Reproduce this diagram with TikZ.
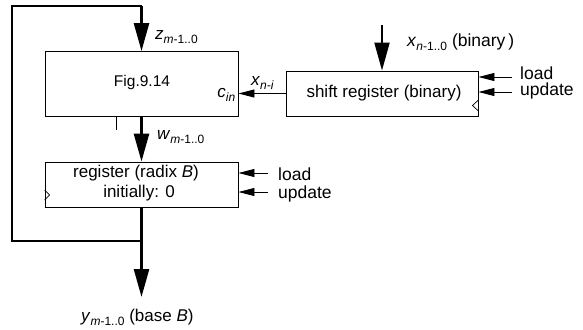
\documentclass[tikz,border=0pt]{standalone}
\usepackage{fontspec}
\setmainfont{Liberation Sans}
\usetikzlibrary{arrows.meta,calc}
\newcommand\sbs[1]{\raisebox{-0.45ex}{\fontsize{12bp}{13bp}\selectfont #1}}
\tikzset{
  blk/.style={draw, line width=0.9bp, rectangle, inner sep=0pt},
  bus/.style={line width=2.6bp},
  busarrow/.style={bus, -{Triangle[length=28bp,width=15bp]}},
  sig/.style={line width=0.9bp, -{Triangle[length=16bp,width=8bp]}},
  lbl/.style={inner sep=0pt, font=\fontsize{17bp}{19bp}\selectfont},
  ctl/.style={inner sep=0pt, font=\fontsize{17.5bp}{19bp}\selectfont},
  clk/.style={line width=0.7bp},
}
\begin{document}
\begin{tikzpicture}[x=1bp,y=-1bp]
\useasboundingbox (0,0) rectangle (583,329);

% blocks
\node[blk, minimum width=193bp, minimum height=65bp] (fig) at (141.5,84) {};
\node[lbl, font=\fontsize{15.5bp}{18bp}\selectfont] (figtxt) at (142,82) {Fig.9.14};
\node[lbl, anchor=east] (cin) at ($(fig.east)+(-3,11)$) {\textit{c}\sbs{\textit{in}}};

\node[blk, minimum width=192bp, minimum height=45bp] (shift) at (382,93.5) {};
\node[lbl] (shifttxt) at (384,93) {shift register (binary)};

\node[blk, minimum width=193bp, minimum height=45bp] (reg) at (141.5,184.5) {};
\node[lbl] (regtxt1) at (136,173) {register (radix \textit{B})};
\node[lbl] (regtxt2) at (139,193) {initially: 0};

% clock marks
\draw[clk] (shift.east |- 0,100) -- ++(-6,5.5) -- ++(6,5.5);
\draw[clk] (reg.west |- 0,190) -- ++(5,5) -- ++(-5,5);

% input x
\coordinate (xin) at (shift.north |- 0,25);
\draw[busarrow, line width=2bp] (xin) -- (shift.north);
\node[ctl, anchor=base west] (xlbl) at (407,46) {\textit{x}\sbs{\textit{n}-1..0} (binary\,)};

% c_in from the shift register
\draw[sig] (shift.west) -- (shift.west -| fig.east);
\node[lbl, anchor=base west] (xni) at (251,85) {\textit{x}\sbs{\textit{n-i}}};

% control inputs of the shift register
\coordinate (sload) at (512,77);
\coordinate (supd) at (512,92);
\draw[sig] (sload) -- (sload -| shift.east);
\draw[sig] (supd) -- (supd -| shift.east);
\node[ctl, anchor=base west] (sloadl) at (520,79) {load};
\node[ctl, anchor=base west] (supdl) at (520,95) {update};

% control inputs of the register
\coordinate (rload) at (268,173);
\coordinate (rupd) at (268,192);
\draw[sig] (rload) -- (rload -| reg.east);
\draw[sig] (rupd) -- (rupd -| reg.east);
\node[ctl, anchor=base west] (rloadl) at (278,180) {load};
\node[ctl, anchor=base west] (rupdl) at (278,198) {update};

% w bus
\draw[busarrow] (fig.south) -- (reg.north);
\node[lbl, anchor=base west] (wlbl) at (157,139) {\textit{w}\sbs{\textit{m}-1..0}};
\coordinate (tick) at (116,117);
\draw[line width=0.8bp] (tick) -- ++(0,13);

% feedback loop and output
\coordinate (junc) at (reg.south |- 0,241);
\coordinate (lbot) at (12,241);
\coordinate (ltop) at (12,6);
\coordinate (ztop) at (fig.north |- 0,6);
\draw[bus] (reg.south) -- (junc) -- (lbot) -- (ltop) -- (ztop);
\draw[busarrow] (ztop) -- (fig.north);
\node[lbl, anchor=base west] (zlbl) at (155,39) {\textit{z}\sbs{\textit{m}-1..0}};

\coordinate (yout) at (reg.south |- 0,297);
\draw[busarrow] (junc) -- (yout);
\node[lbl, anchor=base west] (ylbl) at (81,321) {\textit{y}\sbs{\textit{m}-1..0} (base \textit{B})};
\end{tikzpicture}
\end{document}
